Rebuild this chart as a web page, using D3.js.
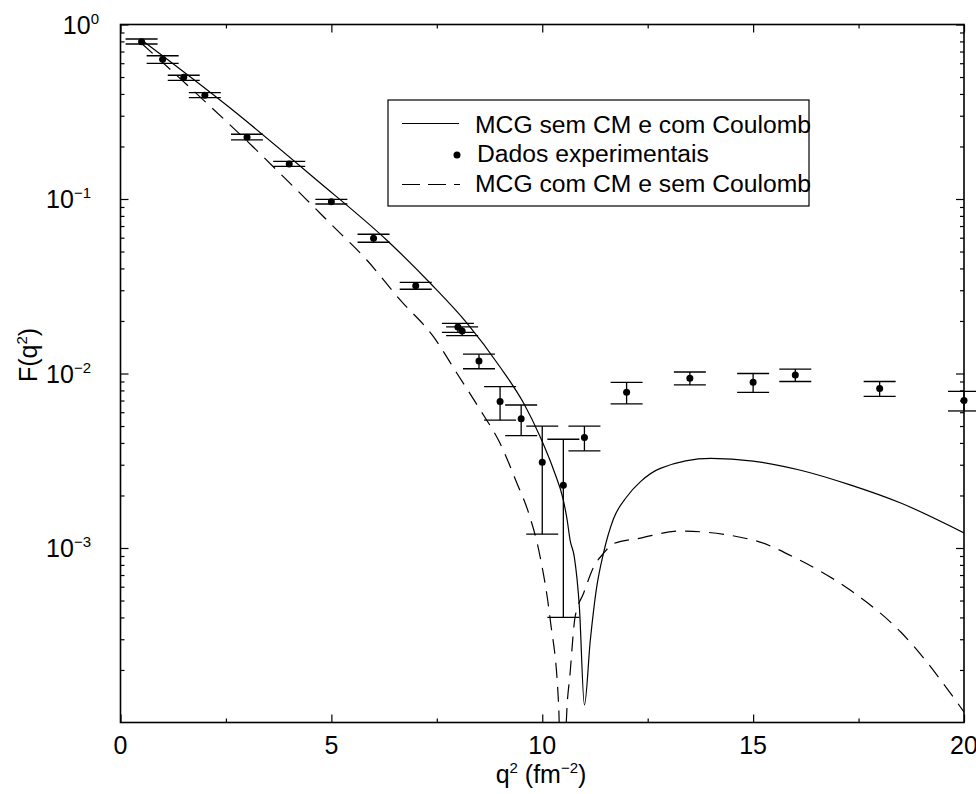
<!DOCTYPE html>
<html>
<head>
<meta charset="utf-8">
<script src="https://cdn.jsdelivr.net/npm/d3@7.9.0/dist/d3.min.js"></script>
<style>
  body { margin: 0; background: #fff; }
  svg { display: block; font-family: "Liberation Sans", Arial, Helvetica, sans-serif; }
</style>
</head>
<body>
<div id="chart"></div>
<script>
// experimental points: q^2 (fm^-2), F(q^2) and the error bar ends
const qData = [0.5, 1, 1.5, 2, 3, 4, 5, 6, 7, 8, 8.1, 8.5, 9, 9.5, 10, 10.5, 11, 12, 13.5, 15, 16, 18, 20];
const fData = [0.797, 0.632, 0.498, 0.393, 0.226, 0.1587, 0.0965, 0.0595, 0.0318, 0.0185, 0.0175, 0.0118,
  0.0069, 0.0055, 0.0031, 0.00229, 0.0043, 0.0078, 0.0094, 0.0089, 0.0098, 0.0082, 0.0070];
const fLow = [0.773, 0.599, 0.479, 0.381, 0.218, 0.154, 0.0936, 0.0565, 0.0304, 0.0172, 0.0165, 0.01065,
  0.0054, 0.0044, 0.0012, 0.0004, 0.0036, 0.0067, 0.0086, 0.0078, 0.0090, 0.0074, 0.0061];
const fHigh = [0.826, 0.662, 0.512, 0.407, 0.235, 0.1644, 0.0996, 0.0628, 0.0333, 0.0194, 0.0185, 0.0129,
  0.0084, 0.0066, 0.0050, 0.0042, 0.0050, 0.0089, 0.0102, 0.0100, 0.0106, 0.0090, 0.0079];

// MCG sem CM e com Coulomb (solid)
const solidQ = [0.5, 2.6, 4.65, 6.31, 7.34, 8.21, 9.0, 9.56, 9.95, 10.27, 10.5, 10.59, 10.66, 10.76,
  10.88, 11.0, 11.14, 11.28, 11.45, 11.69, 12.0, 12.33, 12.8, 14.0, 15.0, 16.1, 17.3, 18.5, 20.0];
const solidF = [0.815, 0.332, 0.1285, 0.0582, 0.033, 0.0195, 0.0109, 0.00675, 0.00434, 0.0028, 0.00188,
  0.00145, 0.00111, 0.00089, 0.00046, 0.000126, 0.000297, 0.000574, 0.00093, 0.00147, 0.00196, 0.0024, 0.00286,
  0.00326, 0.00315, 0.0028, 0.0023, 0.00181, 0.00122];

// MCG com CM e sem Coulomb (dashed)
const dashQ = [0.5, 2.05, 3.14, 3.78, 4.38, 5.05, 5.84, 6.63, 7.42, 7.98, 8.53, 9.0, 9.4, 9.68, 9.95, 10.19,
  10.39, 10.49, 10.57, 10.66, 10.78, 10.98, 11.22, 11.45, 11.69, 12.33, 13.27, 15.0, 16.1, 17.3, 18.5, 20.0];
const dashF = [0.78, 0.3535, 0.1994, 0.1404, 0.1009, 0.0694, 0.0447, 0.0264, 0.01625, 0.0100, 0.00618, 0.00398,
  0.00235, 0.00158, 0.00089, 0.000387, 0.000123, 0.00001, 0.0001, 0.000191, 0.000404, 0.00055, 0.00078,
  0.00093, 0.00106, 0.00114, 0.00125, 0.00111, 0.000853, 0.000574, 0.00033, 0.000115];

const xMajor = [0, 5, 10, 15, 20];
const xMinor = [2.5, 7.5, 12.5, 17.5];
const yExponents = [0, -1, -2, -3];

const legendLabels = ['MCG sem CM e com Coulomb', 'Dados experimentais', 'MCG com CM e sem Coulomb'];

const width = 976, height = 794;
const plot = { left: 120.5, right: 964, top: 24.5, bottom: 722.5 };

const svg = d3.select('#chart').append('svg')
  .attr('width', width)
  .attr('height', height);

const x = d3.scaleLinear().domain([0, 20]).range([plot.left, plot.right]);
const y = d3.scaleLog().domain([1e-4, 1]).range([plot.bottom, plot.top]);

svg.append('clipPath').attr('id', 'clip')
  .append('rect')
  .attr('x', plot.left).attr('y', plot.top)
  .attr('width', plot.right - plot.left).attr('height', plot.bottom - plot.top);

// minor ticks of the log axis: 2..9 in each decade
const yMinor = [];
for (let e = -4; e < 0; e++) {
  for (let k = 2; k <= 9; k++) yMinor.push(k * Math.pow(10, e));
}

// axes, ticks on all four sides pointing inward
const axes = svg.append('g');
axes.append('g').attr('transform', `translate(0,${plot.bottom})`)
  .call(d3.axisBottom(x).tickValues(xMajor).tickSize(-8).tickFormat(''));
axes.append('g').attr('transform', `translate(0,${plot.bottom})`)
  .call(d3.axisBottom(x).tickValues(xMinor).tickSize(-4).tickFormat(''));
axes.append('g').attr('transform', `translate(0,${plot.top})`)
  .call(d3.axisTop(x).tickValues(xMajor).tickSize(-8).tickFormat(''));
axes.append('g').attr('transform', `translate(0,${plot.top})`)
  .call(d3.axisTop(x).tickValues(xMinor).tickSize(-4).tickFormat(''));

const yMajorVals = yExponents.map(e => Math.pow(10, e));
axes.append('g').attr('transform', `translate(${plot.left},0)`)
  .call(d3.axisLeft(y).tickValues(yMajorVals).tickSize(-8).tickFormat(''));
axes.append('g').attr('transform', `translate(${plot.left},0)`)
  .call(d3.axisLeft(y).tickValues(yMinor).tickSize(-4).tickFormat(''));
axes.append('g').attr('transform', `translate(${plot.right},0)`)
  .call(d3.axisRight(y).tickValues(yMajorVals).tickSize(-8).tickFormat(''));
axes.append('g').attr('transform', `translate(${plot.right},0)`)
  .call(d3.axisRight(y).tickValues(yMinor).tickSize(-4).tickFormat(''));

axes.selectAll('.domain').remove();
axes.selectAll('line').attr('stroke', '#000').attr('stroke-width', 1.2);

// frame
svg.append('rect')
  .attr('x', plot.left).attr('y', plot.top)
  .attr('width', plot.right - plot.left).attr('height', plot.bottom - plot.top)
  .attr('fill', 'none').attr('stroke', '#000').attr('stroke-width', 1.6);

// tick labels
svg.append('g').selectAll('text')
  .data(xMajor)
  .join('text')
  .attr('x', d => x(d))
  .attr('y', 754)
  .attr('text-anchor', 'middle')
  .attr('font-size', 25)
  .text(d => d);

const yLabels = svg.append('g').selectAll('text')
  .data(yExponents)
  .join('text')
  .attr('x', d => d === 0 ? 99 : 91)
  .attr('y', d => y(Math.pow(10, d)) + 9)
  .attr('text-anchor', 'end')
  .attr('font-size', 25);
yLabels.append('tspan').text('10');
yLabels.append('tspan')
  .attr('font-size', 15)
  .attr('dy', -10)
  .text(d => d === 0 ? '0' : '\u2212' + (-d));

// axis titles
const xt = svg.append('text')
  .attr('x', 541).attr('y', 783)
  .attr('text-anchor', 'middle')
  .attr('font-size', 25);
xt.append('tspan').text('q');
xt.append('tspan').attr('font-size', 15).attr('dy', -10).text('2');
xt.append('tspan').attr('dy', 10).text(' (fm');
xt.append('tspan').attr('font-size', 15).attr('dy', -10).text('\u22122');
xt.append('tspan').attr('dy', 10).text(')');

const yt = svg.append('text')
  .attr('transform', 'translate(37,355) rotate(-90)')
  .attr('text-anchor', 'middle')
  .attr('font-size', 25);
yt.append('tspan').text('F(q');
yt.append('tspan').attr('font-size', 15).attr('dy', -10).text('2');
yt.append('tspan').attr('dy', 10).text(')');

// curves
const line = d3.line()
  .x(d => x(d[0]))
  .y(d => y(d[1]))
  .curve(d3.curveMonotoneX);

const curves = svg.append('g').attr('clip-path', 'url(#clip)');
curves.append('path')
  .attr('d', line(d3.zip(solidQ, solidF)))
  .attr('fill', 'none').attr('stroke', '#000').attr('stroke-width', 1.2);
curves.append('path')
  .attr('d', line(d3.zip(dashQ, dashF)))
  .attr('fill', 'none').attr('stroke', '#000').attr('stroke-width', 1.2)
  .attr('stroke-dasharray', '15,9');

// error bars and points
const points = qData.map((q, i) => ({ q, f: fData[i], lo: fLow[i], hi: fHigh[i] }));
const bars = svg.append('g').attr('stroke', '#000').attr('stroke-width', 1.3);
bars.selectAll('.v').data(points).join('line')
  .attr('x1', d => x(d.q)).attr('x2', d => x(d.q))
  .attr('y1', d => y(d.lo)).attr('y2', d => y(d.hi));
bars.selectAll('.lo').data(points).join('line')
  .attr('x1', d => x(d.q) - 16).attr('x2', d => x(d.q) + 16)
  .attr('y1', d => y(d.lo)).attr('y2', d => y(d.lo));
bars.selectAll('.hi').data(points).join('line')
  .attr('x1', d => x(d.q) - 16).attr('x2', d => x(d.q) + 16)
  .attr('y1', d => y(d.hi)).attr('y2', d => y(d.hi));

svg.append('g').selectAll('circle')
  .data(points)
  .join('circle')
  .attr('cx', d => x(d.q))
  .attr('cy', d => y(d.f))
  .attr('r', 3.5)
  .attr('fill', '#000');

// legend
const legend = svg.append('g');
legend.append('rect')
  .attr('x', 388).attr('y', 100).attr('width', 421).attr('height', 106)
  .attr('fill', '#fff').attr('stroke', '#000').attr('stroke-width', 1.2);
legend.append('line')
  .attr('x1', 402).attr('x2', 459).attr('y1', 123.5).attr('y2', 123.5)
  .attr('stroke', '#000').attr('stroke-width', 1.2);
legend.append('circle')
  .attr('cx', 457).attr('cy', 155).attr('r', 3.5).attr('fill', '#000');
legend.append('line')
  .attr('x1', 402).attr('x2', 460).attr('y1', 184.5).attr('y2', 184.5)
  .attr('stroke', '#000').attr('stroke-width', 1.2)
  .attr('stroke-dasharray', '18,8');
legend.selectAll('text')
  .data(legendLabels)
  .join('text')
  .attr('x', (d, i) => i === 1 ? 477 : 475)
  .attr('y', (d, i) => [133, 161.7, 191.7][i])
  .attr('font-size', 24.7)
  .text(d => d);
</script>
</body>
</html>
